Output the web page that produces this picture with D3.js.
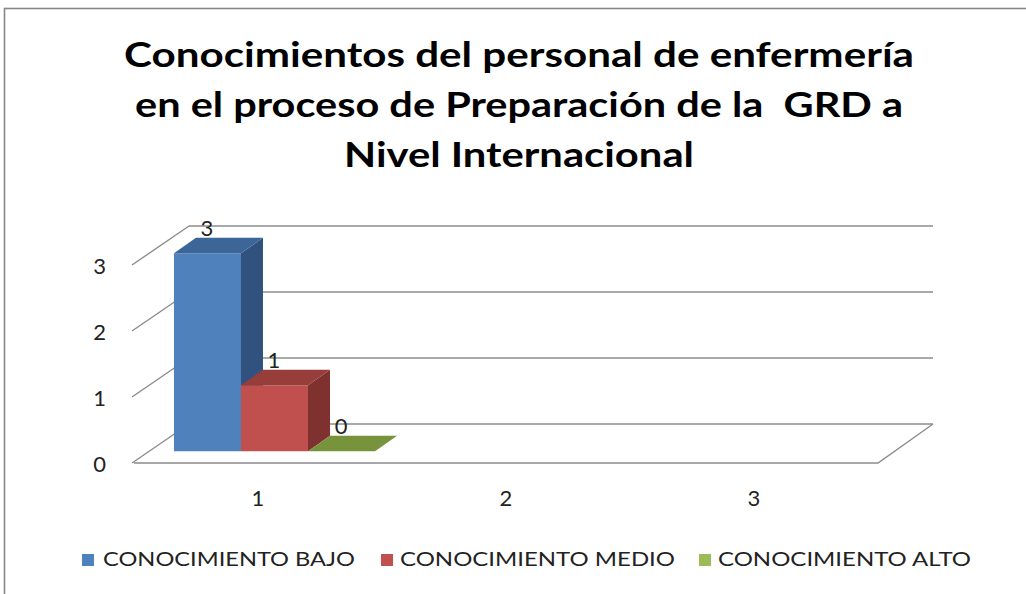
<!DOCTYPE html>
<html>
<head>
<meta charset="utf-8">
<script src="https://cdn.jsdelivr.net/npm/d3@7"></script>
<style>
  html, body { margin: 0; padding: 0; background: #fff; }
  svg { display: block; font-family: Lato, Carlito, 'Liberation Sans', sans-serif; }
</style>
</head>
<body>
<div id="chart"></div>
<script>
const categories = ['1', '2', '3']
const seriesNames = ['CONOCIMIENTO BAJO', 'CONOCIMIENTO MEDIO', 'CONOCIMIENTO ALTO']
const bajo = [3, null, null]
const medio = [1, null, null]
const alto = [0, null, null]
const yTicks = [0, 1, 2, 3]
const titleLines = [
  'Conocimientos del personal de enfermería',
  'en el proceso de Preparación de la  GRD a',
  'Nivel Internacional',
]

const width = 1026
const height = 594

// front, top, side shades for each series
const shades = [
  { front: '#4f81bd', top: '#3c6598', side: '#31527f' },
  { front: '#c0504d', top: '#973d3a', side: '#7e312f' },
  { front: '#9bbb59', top: '#77933c', side: '#637b31' },
]

const svg = d3.select('#chart')
  .append('svg')
  .attr('width', width)
  .attr('height', height)

// chart area border
svg.append('rect')
  .attr('x', 4.5)
  .attr('y', 8.5)
  .attr('width', width + 20)
  .attr('height', height + 20)
  .attr('fill', '#fff')
  .attr('stroke', '#878787')
  .attr('stroke-width', 1.6)

// title
const titleWidths = [790, 768, 350]
svg.append('g')
  .selectAll('text')
  .data(titleLines)
  .enter()
  .append('text')
  .attr('x', 519)
  .attr('y', (d, i) => 67 + i * 50)
  .attr('text-anchor', 'middle')
  .attr('font-size', 34)
  .attr('font-weight', 'bold')
  .attr('fill', '#000')
  .attr('textLength', (d, i) => titleWidths[i])
  .attr('lengthAdjust', 'spacingAndGlyphs')
  .style('white-space', 'pre')
  .text((d) => d)

// 3d projection
const depthX = 55
const depthY = -39

const x = d3.scaleBand().domain(categories).range([134, 878])
const x1 = d3.scaleBand().domain(seriesNames).range([0, x.bandwidth()]).paddingOuter(0.35)
const y = d3.scaleLinear().domain([0, 3]).range([463, 265])

const proj = (xf, v, d) => [xf + d * depthX, y(v) + d * depthY]
const line = d3.line()

const grid = svg.append('g')
  .attr('fill', 'none')
  .attr('stroke', '#8c8c8c')
  .attr('stroke-width', 1.4)

const [x0, x2] = x.range()

// back wall gridlines
grid.selectAll('.back')
  .data(yTicks)
  .enter()
  .append('path')
  .attr('d', (t) => line([proj(x0, t, 1), proj(x2, t, 1)]))

// side wall gridlines
grid.selectAll('.side')
  .data(yTicks)
  .enter()
  .append('path')
  .attr('d', (t) => line([proj(x0 - 2, t, 0), proj(x0, t, 1)]))

// floor front and right edges
grid.append('path')
  .attr('d', line([proj(x0, 0, 0), proj(x2, 0, 0), proj(x2, 0, 1)]))

// y axis labels
svg.append('g')
  .selectAll('text')
  .data(yTicks)
  .enter()
  .append('text')
  .attr('x', 106)
  .attr('y', (t) => y(t) + 3)
  .attr('text-anchor', 'end')
  .attr('dominant-baseline', 'middle')
  .attr('font-size', 22)
  .attr('fill', '#222')
  .text((t) => t)

// category labels
svg.append('g')
  .selectAll('text')
  .data(categories)
  .enter()
  .append('text')
  .attr('x', (c) => x(c) + x.bandwidth() / 2)
  .attr('y', 506)
  .attr('text-anchor', 'middle')
  .attr('font-size', 22)
  .attr('fill', '#222')
  .text((c) => c)

// bars
const seriesValues = [bajo, medio, alto]
const bars = []
categories.forEach((c, ci) => {
  seriesNames.forEach((s, si) => {
    const v = seriesValues[si][ci]
    if (v === null || v === undefined) return
    bars.push({ c, s, si, v })
  })
})

const dFront = 0.3
const dBack = 0.7

const barG = svg.append('g')
  .selectAll('g')
  .data(bars)
  .enter()
  .append('g')

barG.each((b, i, arr) => {
  const g = d3.select(arr[i])
  const l = x(b.c) + x1(b.s)
  const r = l + x1.bandwidth()
  const col = shades[b.si]
  if (b.v > 0) {
    g.append('path')
      .attr('fill', col.front)
      .attr('d', line([proj(l, 0, dFront), proj(r, 0, dFront), proj(r, b.v, dFront), proj(l, b.v, dFront)]) + 'Z')
    g.append('path')
      .attr('fill', col.side)
      .attr('d', line([proj(r, 0, dFront), proj(r, 0, dBack), proj(r, b.v, dBack), proj(r, b.v, dFront)]) + 'Z')
  }
  g.append('path')
    .attr('fill', col.top)
    .attr('d', line([proj(l, b.v, dFront), proj(r, b.v, dFront), proj(r, b.v, dBack), proj(l, b.v, dBack)]) + 'Z')
})

// value labels
svg.append('g')
  .selectAll('text')
  .data(bars)
  .enter()
  .append('text')
  .attr('x', (b) => x(b.c) + x1(b.s) + x1.bandwidth() / 2 + 16)
  .attr('y', (b) => proj(0, b.v, dBack)[1] - 2)
  .attr('text-anchor', 'middle')
  .attr('font-size', 22)
  .attr('fill', '#222')
  .text((b) => b.v)

// legend
const legendX = [82, 381, 699]
const legendW = [252, 275, 253]
const legend = svg.append('g')
  .selectAll('g')
  .data(seriesNames)
  .enter()
  .append('g')
  .attr('transform', (d, i) => `translate(${legendX[i]}, 554)`)

legend.append('rect')
  .attr('width', 12)
  .attr('height', 12)
  .attr('fill', (d, i) => shades[i].front)

legend.append('text')
  .attr('x', (d, i) => i === 0 ? 21 : 19)
  .attr('y', 12)
  .attr('font-size', 19)
  .attr('fill', '#222')
  .attr('textLength', (d, i) => legendW[i])
  .attr('lengthAdjust', 'spacingAndGlyphs')
  .text((d) => d)
</script>
</body>
</html>
